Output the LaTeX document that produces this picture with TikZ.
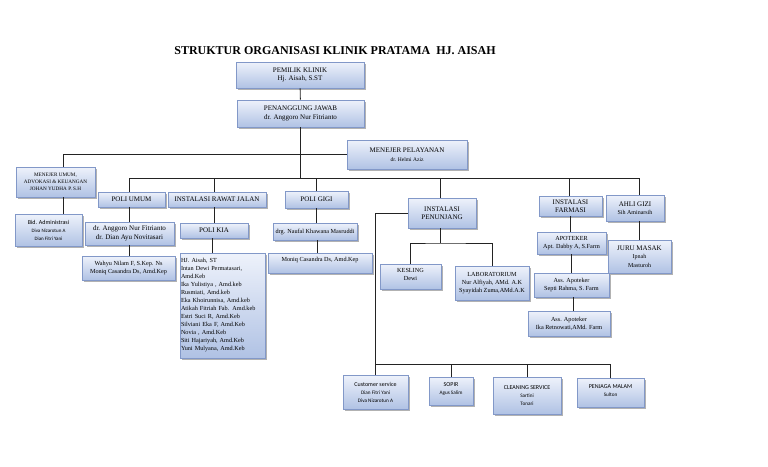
\documentclass[tikz,border=0pt]{standalone}
\usepackage{fontspec}
\setmainfont{Liberation Serif}
\newfontfamily\sansf{Carlito}
\usetikzlibrary{shadows}
\definecolor{boxtop}{RGB}{238,242,251}
\definecolor{boxbot}{RGB}{176,194,228}
\definecolor{boxline}{RGB}{130,152,200}
\definecolor{connc}{RGB}{35,35,35}
\begin{document}
\begin{tikzpicture}[x=1pt,y=-1pt,
  box/.style={draw=boxline, line width=0.6pt, top color=boxtop, bottom color=boxbot,
    drop shadow={shadow xshift=1.5pt, shadow yshift=-1.5pt, opacity=0.5, fill=black!60},
    align=center, inner sep=1pt, font=\fontsize{7}{8.5}\selectfont},
  conn/.style={draw=connc, line width=0.9pt},
  sm/.style={font=\fontsize{5.2}{7}\selectfont},
  sn/.style={font=\sansf\fontsize{6}{8}\selectfont},
  ls/.style={font=\fontsize{6.2}{8}\selectfont}]
\useasboundingbox (0,0) rectangle (768,466);
\fill[white] (0,0) rectangle (768,466);

\node[font=\bfseries\fontsize{12}{14}\selectfont] (title) at (335,51) {STRUKTUR ORGANISASI KLINIK PRATAMA\ \ HJ. AISAH};

% top
\node[box, minimum width=128pt, minimum height=26pt] (pemilik) at (300,75) {PEMILIK KLINIK\\Hj. Aisah, S.ST};
\node[box, minimum width=127pt, minimum height=27pt] (pj) at (300.5,113.5) {PENANGGUNG JAWAB\\dr. Anggoro Nur Fitrianto};
\node[box, sm, minimum width=79pt, minimum height=30pt] (mu) at (55.5,182) {MENEJER UMUM,\\ADVOKASI \& KEUANGAN\\JOHAN YUDHA P. S.H};
\node[box, minimum width=120pt, minimum height=29pt] (mp) at (407,154.5) {MENEJER PELAYANAN\\{\fontsize{5.5}{7}\selectfont dr. Helmi Aziz}};
\node[box, sn, minimum width=67pt, minimum height=32pt] (bid) at (48.5,230) {Bid. Administrasi\\{\fontsize{5}{7}\selectfont Diva Nizarotun A}\\{\fontsize{5}{7}\selectfont Dian Fitri Yani}};

% second row
\node[box, minimum width=67pt, minimum height=15pt] (polium) at (131.5,199.5) {POLI UMUM};
\node[box, minimum width=98pt, minimum height=15pt] (irj) at (217,199.5) {INSTALASI RAWAT JALAN};
\node[box, minimum width=63pt, minimum height=17pt] (poligigi) at (316.5,199.5) {POLI GIGI};
\node[box, minimum width=68pt, minimum height=30pt] (ip) at (442,213) {INSTALASI\\PENUNJANG};
\node[box, minimum width=63pt, minimum height=20pt] (ifar) at (570.5,206) {INSTALASI\\FARMASI};
\node[box, minimum width=58pt, minimum height=26pt] (gizi) at (635,208) {AHLI GIZI\\{\fontsize{6}{8}\selectfont Sih Aminarsih}};

% third row
\node[box, minimum width=89pt, minimum height=23pt] (dokter) at (129.5,233.5) {dr. Anggoro Nur Fitrianto\\dr. Dian Ayu Novitasari};
\node[box, ls, minimum width=93pt, minimum height=24pt] (wahyu) at (128.5,268) {Wahyu Nilam F, S.Kep. Ns\\Moniq Casandra Ds, Amd.Kep};
\node[box, minimum width=68pt, minimum height=15pt] (kia) at (214,230.5) {POLI KIA};
\node[box, ls, align=left, text width=83pt, minimum height=105pt] (list) at (222.5,305.5) {HJ. Aisah, ST\\Intan Dewi Permatasari,\\Amd.Keb\\Ika Yulistiya , Amd.keb\\Rusmiati, Amd.keb\\Eka Khoirunnisa, Amd.keb\\Atikah Fitriah Fab. Amd.keb\\Estri Suci R, Amd.Keb\\Silviani Eka F, Amd.Keb\\Novia , Amd.Keb\\Siti Hajariyah, Amd.Keb\\Yuni Mulyana, Amd.Keb};
\node[box, ls, minimum width=84pt, minimum height=17pt] (drg) at (315,231.5) {drg. Naufal Khawana Masruddi};
\node[box, ls, minimum width=104pt, minimum height=20pt, text depth=8pt] (moniq) at (320,263) {Moniq Casandra Ds, Amd.Kep};
\node[box, ls, minimum width=61pt, minimum height=25pt, text depth=4pt] (kesling) at (410.5,276.5) {KESLING\\Dewi};
\node[box, ls, minimum width=74pt, minimum height=34pt] (lab) at (492,283) {LABORATORIUM\\Nur Alfiyah, AMd. A.K\\Syayidah Zuma,AMd.A.K};
\node[box, ls, minimum width=69pt, minimum height=22pt] (apot) at (571.5,243) {APOTEKER\\Apt. Dabby A, S.Farm};
\node[box, ls, minimum width=75pt, minimum height=24pt] (ass1) at (571.5,285) {Ass. Apoteker\\Septi Rahma, S. Farm};
\node[box, ls, minimum width=82pt, minimum height=25pt] (ass2) at (569,323.5) {Ass. Apoteker\\Ika Retnowati,AMd. Farm};
\node[box, minimum width=63pt, minimum height=33pt] (juru) at (639.5,256.5) {JURU MASAK\\{\fontsize{6}{8}\selectfont Ipnah}\\{\fontsize{6}{8}\selectfont Masturoh}};

% bottom row
\node[box, sn, minimum width=65pt, minimum height=34pt] (cs) at (375.5,392) {Customer service\\{\fontsize{5.2}{8}\selectfont Dian Fitri Yani}\\{\fontsize{5.2}{8}\selectfont Diva Nizarotun A}};
\node[box, sn, minimum width=44pt, minimum height=28pt, text depth=4pt] (sopir) at (451,391) {SOPIR\\{\fontsize{5.2}{8}\selectfont Agus Salim}};
\node[box, sn, minimum width=68pt, minimum height=37pt] (clean) at (527,395.5) {CLEANING SERVICE\\{\fontsize{5.2}{8}\selectfont Sartini}\\{\fontsize{5.2}{8}\selectfont Tonari}};
\node[box, sn, minimum width=67pt, minimum height=29pt, text depth=4pt] (penjaga) at (610.5,392.5) {PENJAGA MALAM\\{\fontsize{5.2}{8}\selectfont Sulton}};

% connectors
\coordinate (busL) at (129,178);
\coordinate (busR) at (639,178);
\coordinate (ipb) at (440,243);
\coordinate (bb) at (375,364);

\draw[conn] (pemilik) -- (pj);
\draw[conn] (pj.south) -- (pj.south |- busL);
\draw[conn] ([xshift=7.5pt]mu.north) |- (mp.west);
\draw[conn] ([xshift=7.5pt]mu.south) -- ([xshift=7.5pt]mu.south |- bid.north);
\draw[conn] (busL) -- (busR);
\draw[conn] (polium.north -| busL) -- (busL);
\draw[conn] ([xshift=-3pt]irj.north) -- ([xshift=-3pt]irj.north |- busL);
\draw[conn] (poligigi.north) -- (poligigi.north |- busL);
\draw[conn] ([xshift=-2pt]ip.north) -- ([xshift=-2pt]ip.north |- busL);
\draw[conn] ([xshift=-1.5pt]ifar.north) -- ([xshift=-1.5pt]ifar.north |- busL);
\draw[conn] (busR) -- (busR |- gizi.north);

\draw[conn] (polium.south -| busL) -- (dokter.north -| busL);
\draw[conn] (dokter.south -| busL) -- (wahyu.north -| busL);
\draw[conn] (kia.north) -- (kia.north |- irj.south);
\draw[conn] ([xshift=-2pt]kia.south) -- ([xshift=-2pt]kia.south |- list.north);
\draw[conn] (poligigi.south) -- (poligigi.south |- drg.north);
\draw[conn] ([xshift=2pt]drg.south) -- ([xshift=2pt]drg.south |- moniq.north);

\draw[conn] (ip.west) -| (cs.north);
\draw[conn] (bb) -| (penjaga.north);
\draw[conn] (sopir.north) -- (sopir.north |- bb);
\draw[conn] (clean.north) -- (clean.north |- bb);
\draw[conn] (ip.south -| ipb) -- (ipb);
\draw[conn] (kesling.north) |- (ipb) -| (lab.north);

\draw[conn] (ifar.south) -- (ifar.south |- apot.north);
\draw[conn] (apot.south) -- (apot.south |- ass1.north);
\draw[conn] ([xshift=2pt]ass1.south) -- ([xshift=2pt]ass1.south |- ass2.north);
\draw[conn] (busR |- gizi.south) -- (busR |- juru.north);
\end{tikzpicture}
\end{document}
